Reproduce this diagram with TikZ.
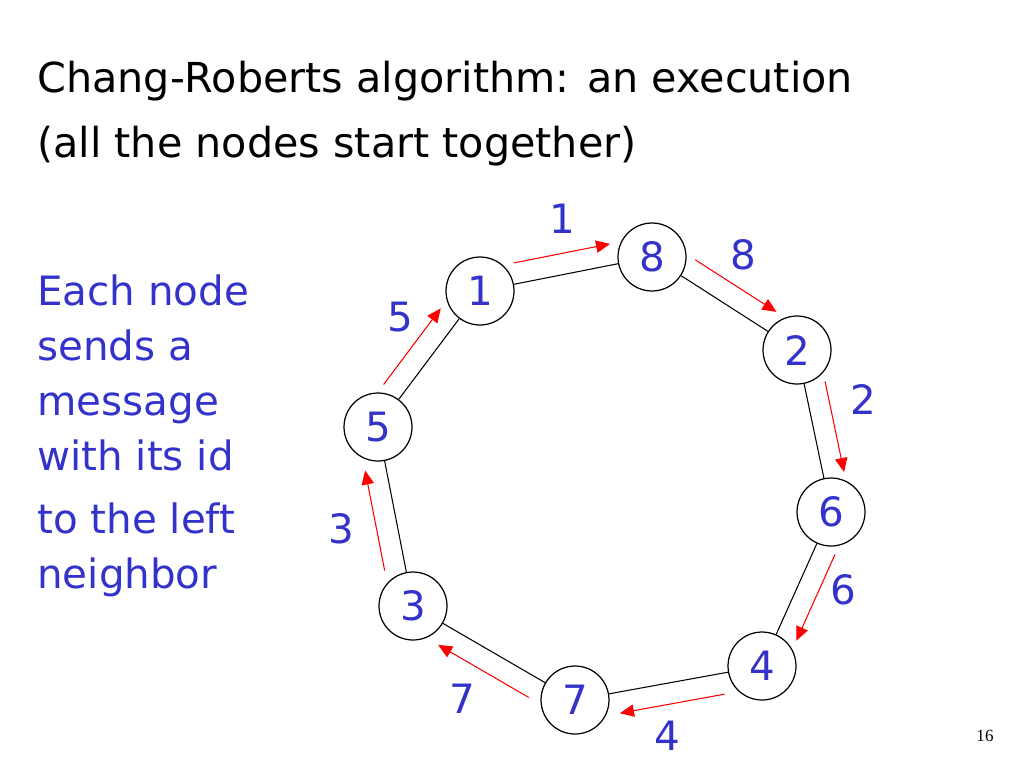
\documentclass[tikz,border=0pt]{standalone}
\usepackage{fontspec}
\setmainfont{DejaVu Sans}
\newfontfamily\seitenfont{Liberation Serif}
\usepackage{xcolor}
\definecolor{idblau}{RGB}{51,51,204}
\definecolor{nachrot}{RGB}{255,0,0}
\usetikzlibrary{calc,arrows.meta}

\begin{document}
\begin{tikzpicture}[x=0.02cm,y=-0.02cm,
  prozess/.style={circle, draw=black, line width=0.7pt, minimum size=1.36cm,
    inner sep=0pt, text=idblau, font=\fontsize{23}{27}\selectfont},
  kante/.style={draw=black, line width=0.6pt},
  nachricht/.style={draw=nachrot, line width=0.6pt,
    -{Triangle[length=8pt,width=7pt]}},
  idlabel/.style={text=idblau, inner sep=0pt, font=\fontsize{23}{27}\selectfont},
  erklaerung/.style={anchor=base west, align=left, inner sep=0pt, text=idblau,
    font=\fontsize{23}{31.2}\selectfont}]
\def\ab{0.42cm} % Abstand der Nachricht zur Kante
\def\ps{0.22} % Anfang der Nachricht (Anteil)
\def\pe{0.78} % Ende der Nachricht (Anteil)

\useasboundingbox (0,0) rectangle (1024,768);

% =========================================================
% Titel
% =========================================================
\node[anchor=base west, inner sep=0pt, font=\fontsize{23.5}{28}\selectfont]
  (titel1) at (37,92) {Chang-Roberts algorithm: an execution};
\node[anchor=base west, inner sep=0pt, font=\fontsize{23.5}{28}\selectfont]
  (titel2) at (37,157) {(all the nodes start together)};

% =========================================================
% Erklaerung links (base = letzte Zeile)
% =========================================================
\node[erklaerung] (text1) at (37,470) {Each node\\sends a\\message\\with its id};
\node[erklaerung] (text2) at (37,588) {to the left\\neighbor};

% =========================================================
% Ring
% =========================================================
\node[prozess] (p1) at (480,291) {1};
\node[prozess] (p8) at (652,257) {8};
\node[prozess] (p2) at (797,350) {2};
\node[prozess] (p6) at (831,512) {6};
\node[prozess] (p4) at (762,666) {4};
\node[prozess] (p7) at (575,700) {7};
\node[prozess] (p3) at (413,606) {3};
\node[prozess] (p5) at (378,427) {5};

% Kanten
\foreach \a/\b in {p1/p8,p8/p2,p2/p6,p6/p4,p4/p7,p7/p3,p3/p5,p5/p1}
  \draw[kante] (\a) -- (\b);

% Nachrichten (aussen, an den linken Nachbarn)
\foreach \a/\b in {p1/p8,p8/p2,p2/p6,p6/p4,p4/p7,p7/p3,p3/p5,p5/p1}
  \draw[nachricht] ($(\a)!\ps!(\b)!\ab!90:(\b)$) -- ($(\a)!\pe!(\b)!\ab!90:(\b)$);

% Beschriftung der Nachrichten
\node[idlabel] (m1) at (562,219) {1};
\node[idlabel] (m8) at (743,255) {8};
\node[idlabel] (m2) at (863,399) {2};
\node[idlabel] (m6) at (843,590) {6};
\node[idlabel] (m4) at (667,736) {4};
\node[idlabel] (m7) at (462,699) {7};
\node[idlabel] (m3) at (341,529) {3};
\node[idlabel] (m5) at (400,317) {5};

% Seitenzahl
\node[inner sep=0pt, font=\seitenfont\fontsize{9.7}{12}\selectfont]
  (seite) at (985,736) {16};

\end{tikzpicture}
\end{document}
